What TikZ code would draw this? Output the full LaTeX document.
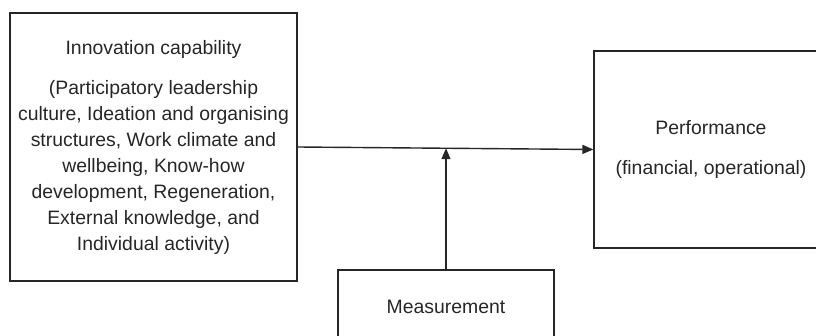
\documentclass[tikz,border=0pt]{standalone}
\usepackage{fontspec}
\setmainfont{Liberation Sans}
\usetikzlibrary{arrows.meta,calc}
\definecolor{ink}{HTML}{262626}
\tikzset{
  box/.style={draw=ink, line width=1.3pt, rectangle, inner sep=0pt, align=center,
    text=ink, font=\fontsize{19.4}{26}\selectfont},
  arr/.style={draw=ink, line width=1.4pt, -{Triangle[length=11pt,width=9pt]}}
}
\begin{document}
\begin{tikzpicture}[x=1pt,y=-1pt]
  \useasboundingbox (0,0) rectangle (816,336);
  \clip (0,0) rectangle (816,336);
  \node[box, minimum width=287pt, minimum height=268pt] (cap) at (153.5,147)
    {Innovation capability\\[14pt]
     (Participatory leadership\\
     culture, Ideation and organising\\
     structures, Work climate and\\
     wellbeing, Know-how\\
     development, Regeneration,\\
     External knowledge, and\\
     Individual activity)};
  \node[box, minimum width=234pt, minimum height=197pt] (perf) at (711,149.5)
    {Performance\\[14pt](financial, operational)};
  \node[box, minimum width=216pt, minimum height=74pt] (meas) at (446,307)
    {Measurement};
  \coordinate (mid) at ($(cap.east)!0.5!(perf.west)$);
  \draw[arr] (cap.east) -- (perf.west);
  \draw[arr] (meas.north) -- (meas.north |- mid);
\end{tikzpicture}
\end{document}
